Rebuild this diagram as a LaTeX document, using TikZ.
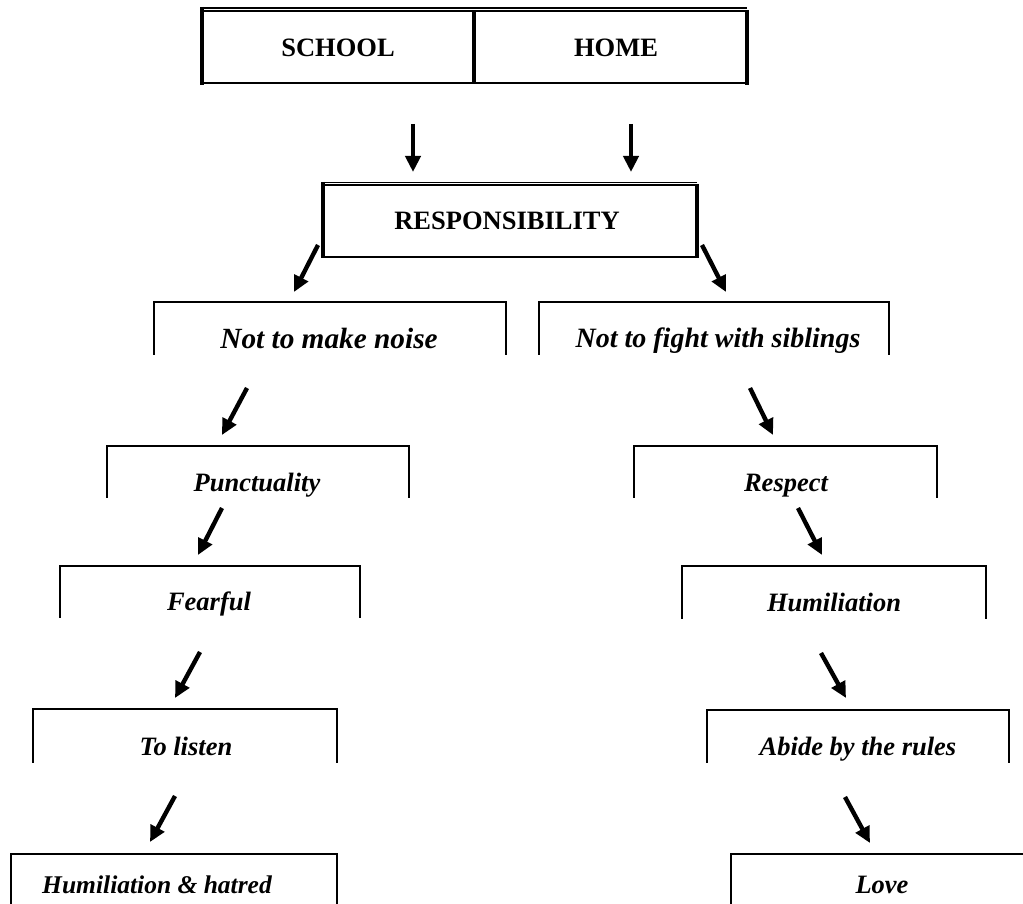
\documentclass[tikz,border=0pt]{standalone}
\usepackage{fontspec}
\setmainfont{Liberation Serif}
\usetikzlibrary{arrows.meta}
\begin{document}
\begin{tikzpicture}[x=1pt,y=-1pt,
  thinline/.style={line width=1.2pt},
  boxline/.style={line width=2pt},
  sideline/.style={line width=3.2pt},
  openbox/.style={line width=2.2pt, line cap=rect},
  arr/.style={line width=4.4pt,-{Triangle[length=16pt,width=15pt]}},
  captxt/.style={font=\bfseries\fontsize{26.5}{30}\selectfont, inner sep=0pt, anchor=base},
  lbl/.style={font=\bfseries\itshape\fontsize{#1}{34}\selectfont, inner sep=0pt, anchor=base},
  lbl/.default=26.5]
\useasboundingbox (0,0) rectangle (1023,904);

% ---- top box: SCHOOL | HOME
\draw[thinline] (202,8) -- (747,8);
\draw[boxline] (202,11) -- (747,11);
\draw[boxline] (202,83) -- (747,83);
\draw[sideline] (202,7) -- (202,85);
\draw[sideline] (747,10) -- (747,85);
\draw[sideline] (474,11) -- (474,83);
\node[captxt] (school) at (338,57) {SCHOOL};
\node[captxt] (home) at (616,57) {HOME};

% ---- RESPONSIBILITY box
\draw[thinline] (323,182.5) -- (697,182.5);
\draw[boxline] (323,185) -- (697,185);
\draw[boxline] (323,257) -- (697,257);
\draw[sideline] (323,182) -- (323,258);
\draw[sideline] (697,184) -- (697,258);
\node[captxt] (resp) at (507,230) {RESPONSIBILITY};

% ---- open boxes (left column)
\draw[openbox] (154,354) -- (154,302) -- (506,302) -- (506,354);
\node[lbl=29.3] (noise) at (329,348) {Not to make noise};
\draw[openbox] (107,497) -- (107,446) -- (409,446) -- (409,497);
\node[lbl] (punct) at (257,491) {Punctuality};
\draw[openbox] (60,617) -- (60,566) -- (360,566) -- (360,617);
\node[lbl] (fear) at (209,610) {Fearful};
\draw[openbox] (33,762) -- (33,709) -- (337,709) -- (337,762);
\node[lbl] (listen) at (186,755) {To listen};
\draw[openbox] (11,910) -- (11,854) -- (337,854) -- (337,910);
\node[lbl=25.5] (hate) at (157,893) {Humiliation \& hatred};

% ---- open boxes (right column)
\draw[openbox] (539,354) -- (539,302) -- (889,302) -- (889,354);
\node[lbl=28] (fight) at (718,347) {Not to fight with siblings};
\draw[openbox] (634,497) -- (634,446) -- (937,446) -- (937,497);
\node[lbl] (respect) at (786,491) {Respect};
\draw[openbox] (682,618) -- (682,566) -- (986,566) -- (986,618);
\node[lbl] (humil) at (834,611) {Humiliation};
\draw[openbox] (707,762) -- (707,710) -- (1009,710) -- (1009,762);
\node[lbl] (abide) at (858,755) {Abide by the rules};
\draw[openbox] (731,910) -- (731,854) -- (1030,854);
\node[lbl] (love) at (882,893) {Love};

% ---- arrow end points
\coordinate (a1s) at (413,124);  \coordinate (a1e) at (413,172);
\coordinate (a2s) at (631,124);  \coordinate (a2e) at (631,172);
\coordinate (a3s) at (318,245);  \coordinate (a3e) at (294,292);
\coordinate (a4s) at (702,245);  \coordinate (a4e) at (726,292);
\coordinate (a5s) at (247,388);  \coordinate (a5e) at (222,435);
\coordinate (a6s) at (750,388);  \coordinate (a6e) at (773,435);
\coordinate (a7s) at (222,508);  \coordinate (a7e) at (198,555);
\coordinate (a8s) at (798,508);  \coordinate (a8e) at (822,555);
\coordinate (a9s) at (200,652);  \coordinate (a9e) at (175,698);
\coordinate (a10s) at (821,653); \coordinate (a10e) at (846,698);
\coordinate (a11s) at (175,796); \coordinate (a11e) at (150,842);
\coordinate (a12s) at (845,797); \coordinate (a12e) at (870,843);

\foreach \i in {1,...,12} {\draw[arr] (a\i s) -- (a\i e);}
\end{tikzpicture}
\end{document}
